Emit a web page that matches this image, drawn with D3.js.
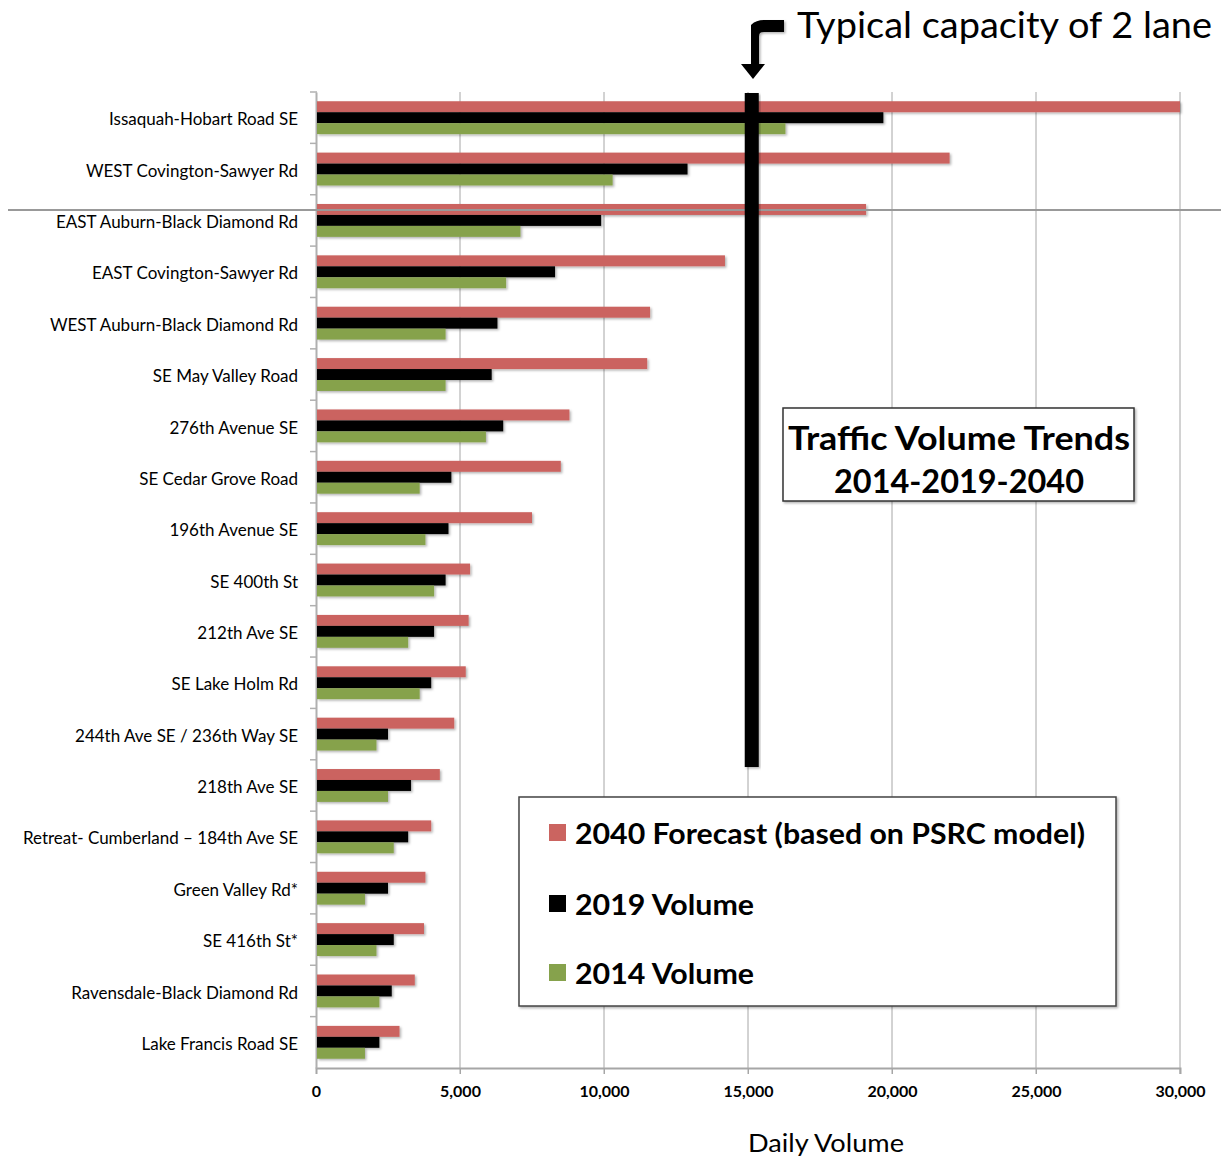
<!DOCTYPE html>
<html>
<head>
<meta charset="utf-8">
<script src="https://cdn.jsdelivr.net/npm/d3@7"></script>
<style>
  body { margin: 0; background: #fff; }
  text { font-family: Lato, "Open Sans", sans-serif; }
</style>
</head>
<body>
<svg id="chart"></svg>
<script>
const width = 1221;
const height = 1159;

const roads = [
    "Issaquah-Hobart Road SE",
    "WEST Covington-Sawyer Rd",
    "EAST Auburn-Black Diamond Rd",
    "EAST Covington-Sawyer Rd",
    "WEST Auburn-Black Diamond Rd",
    "SE May Valley Road",
    "276th Avenue SE",
    "SE Cedar Grove Road",
    "196th Avenue SE",
    "SE 400th St",
    "212th Ave SE",
    "SE Lake Holm Rd",
    "244th Ave SE / 236th Way SE",
    "218th Ave SE",
    "Retreat- Cumberland \u2013 184th Ave SE",
    "Green Valley Rd*",
    "SE 416th St*",
    "Ravensdale-Black Diamond Rd",
    "Lake Francis Road SE"
];

const vol2040 = [30000, 22000, 19100, 14200, 11600, 11500, 8800, 8500, 7500, 5350, 5300, 5200, 4800, 4300, 4000, 3800, 3750, 3430, 2900];
const vol2019 = [19700, 12900, 9900, 8300, 6300, 6100, 6500, 4700, 4600, 4500, 4100, 4000, 2500, 3300, 3200, 2500, 2700, 2630, 2200];
const vol2014 = [16300, 10300, 7100, 6600, 4500, 4500, 5900, 3600, 3800, 4100, 3200, 3600, 2100, 2500, 2700, 1700, 2100, 2200, 1700];

const seriesNames = ["2040 Forecast (based on PSRC model)", "2019 Volume", "2014 Volume"];
const seriesColors = ["#cb6460", "#000000", "#86a24c"];

const xTicks = [0, 5000, 10000, 15000, 20000, 25000, 30000];
const capacity = 15130;

const svg = d3.select("#chart")
    .attr("width", width)
    .attr("height", height);

const defs = svg.append("defs");
defs.append("filter")
    .attr("id", "shadow")
    .attr("x", "-5%").attr("y", "-30%")
    .attr("width", "120%").attr("height", "180%")
    .append("feDropShadow")
    .attr("dx", 1.5).attr("dy", 1.5)
    .attr("stdDeviation", 1)
    .attr("flood-color", "#000")
    .attr("flood-opacity", 0.3);

const x = d3.scaleLinear()
    .domain([0, 30000])
    .range([316, 1180]);

const y = d3.scaleBand()
    .domain(roads)
    .range([92, 1068])
    .paddingInner(0.36)
    .paddingOuter(0.18);

const ySub = d3.scaleBand()
    .domain([0, 1, 2])
    .range([0, y.bandwidth()]);

// gridlines
svg.append("g")
    .selectAll("line")
    .data(xTicks.slice(1))
    .enter()
    .append("line")
    .attr("x1", d => x(d))
    .attr("x2", d => x(d))
    .attr("y1", 92)
    .attr("y2", 1074)
    .attr("stroke", "#a6a6a6")
    .attr("stroke-width", 1);

// x axis
const xAxis = svg.append("g")
    .attr("transform", "translate(0,1068)")
    .call(d3.axisBottom(x).tickValues(xTicks).tickSize(6).tickPadding(12).tickFormat(d3.format(",")));
xAxis.select(".domain").attr("stroke", "#a6a6a6").attr("stroke-width", 2);
xAxis.selectAll(".tick line").attr("stroke", "#a6a6a6");
xAxis.selectAll(".tick text")
    .attr("fill", "#000")
    .attr("font-size", 16)
    .attr("font-weight", "bold")
    .attr("font-family", "Lato");

// y axis
const yAxis = svg.append("g")
    .attr("transform", "translate(316,0)")
    .call(d3.axisLeft(y).tickSize(0).tickPadding(18));
yAxis.select(".domain").attr("stroke", "#b0b0b0").attr("stroke-width", 2);
yAxis.selectAll(".tick text")
    .attr("fill", "#000")
    .attr("font-size", 17)
    .attr("font-family", "Lato")
    .attr("dy", "0.45em");

// band boundary ticks on the y axis
svg.append("g")
    .selectAll("line")
    .data(roads)
    .enter()
    .append("line")
    .attr("x1", 310)
    .attr("x2", 317)
    .attr("y1", d => y(d) - y.step() * 0.18)
    .attr("y2", d => y(d) - y.step() * 0.18)
    .attr("stroke", "#b0b0b0")
    .attr("stroke-width", 1.5);

// bars
const series = [vol2040, vol2019, vol2014];
const rows = roads.map((r, i) => ({road: r, values: series.map(s => s[i])}));

const groups = svg.append("g")
    .selectAll("g")
    .data(rows)
    .enter()
    .append("g")
    .attr("transform", d => `translate(0,${y(d.road)})`);

groups.selectAll("rect")
    .data(d => d.values)
    .enter()
    .append("rect")
    .attr("x", x(0) + 1)
    .attr("y", (d, i) => ySub(i))
    .attr("width", d => x(d) - x(0) - 1)
    .attr("height", ySub.bandwidth())
    .attr("fill", (d, i) => seriesColors[i])
    .attr("filter", "url(#shadow)");

// separator line across the page
svg.append("line")
    .attr("x1", 8)
    .attr("x2", width)
    .attr("y1", 210)
    .attr("y2", 210)
    .attr("stroke", "#999")
    .attr("stroke-width", 2);

// capacity line
svg.append("rect")
    .attr("x", x(capacity) - 7)
    .attr("y", 93)
    .attr("width", 14)
    .attr("height", 767 - 93)
    .attr("fill", "#000")
    .attr("filter", "url(#shadow)");

// bent arrow
svg.append("path")
    .attr("d", "M784,26 L764,26 Q753,26 753,37 L753,66")
    .attr("fill", "none")
    .attr("stroke", "#000")
    .attr("stroke-width", 12)
    .attr("filter", "url(#shadow)");
svg.append("path")
    .attr("d", "M741,64 L765,64 L753,79 Z")
    .attr("fill", "#000");

svg.append("text")
    .attr("x", 797)
    .attr("y", 38)
    .attr("font-size", 36)
    .attr("textLength", 415)
    .attr("lengthAdjust", "spacingAndGlyphs")
    .text("Typical capacity of 2 lane");

// title box
svg.append("rect")
    .attr("x", 783)
    .attr("y", 408)
    .attr("width", 351)
    .attr("height", 93)
    .attr("fill", "#fff")
    .attr("stroke", "#333")
    .attr("stroke-width", 1.5)
    .attr("filter", "url(#shadow)");

svg.append("text")
    .attr("x", 959)
    .attr("y", 450)
    .attr("text-anchor", "middle")
    .attr("font-size", 33)
    .attr("font-weight", "bold")
    .attr("textLength", 342)
    .attr("lengthAdjust", "spacingAndGlyphs")
    .text("Traffic Volume Trends");

svg.append("text")
    .attr("x", 959)
    .attr("y", 493)
    .attr("text-anchor", "middle")
    .attr("font-size", 33)
    .attr("font-weight", "bold")
    .attr("textLength", 250)
    .attr("lengthAdjust", "spacingAndGlyphs")
    .text("2014-2019-2040");

// legend
svg.append("rect")
    .attr("x", 519)
    .attr("y", 797)
    .attr("width", 597)
    .attr("height", 209)
    .attr("fill", "#fff")
    .attr("stroke", "#444")
    .attr("stroke-width", 1.5)
    .attr("filter", "url(#shadow)");

const legendY = [833, 904, 973];
const legendLen = [510, 179, 179];

const legend = svg.append("g")
    .selectAll("g")
    .data(seriesNames)
    .enter()
    .append("g")
    .attr("transform", (d, i) => `translate(549,${legendY[i]})`);

legend.append("rect")
    .attr("x", 0)
    .attr("y", -9)
    .attr("width", 17)
    .attr("height", 17)
    .attr("fill", (d, i) => seriesColors[i]);

legend.append("text")
    .attr("x", 26)
    .attr("y", 11)
    .attr("font-size", 28)
    .attr("font-weight", "bold")
    .attr("textLength", (d, i) => legendLen[i])
    .attr("lengthAdjust", "spacingAndGlyphs")
    .text(d => d);

// x axis title
svg.append("text")
    .attr("x", 826)
    .attr("y", 1152)
    .attr("text-anchor", "middle")
    .attr("font-size", 25)
    .attr("textLength", 156)
    .attr("lengthAdjust", "spacingAndGlyphs")
    .text("Daily Volume");
</script>
</body>
</html>
